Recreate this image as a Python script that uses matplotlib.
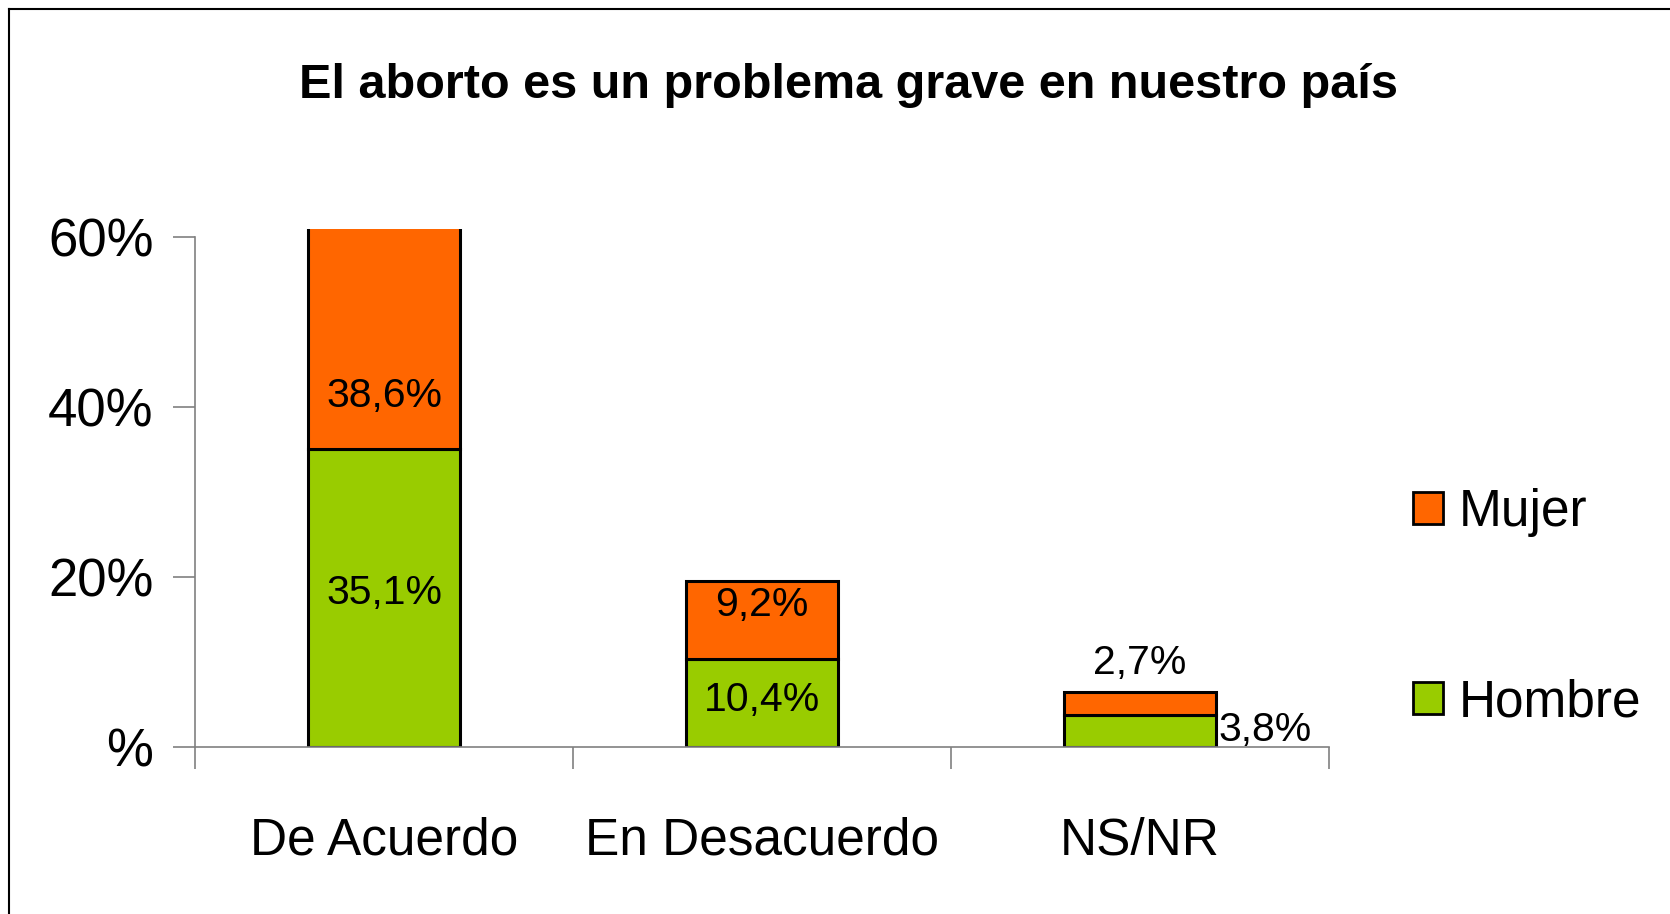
import matplotlib
matplotlib.use("Agg")
import matplotlib.pyplot as plt
from matplotlib.lines import Line2D
from matplotlib.patches import Patch

plt.rcParams['font.family'] = ['Liberation Sans', 'DejaVu Sans']

categories = ["De Acuerdo", "En Desacuerdo", "NS/NR"]
hombre = [35.1, 10.4, 3.8]
mujer = [38.6, 9.2, 2.7]
hombre_labels = ["35,1%", "10,4%", "3,8%"]
mujer_labels = ["38,6%", "9,2%", "2,7%"]
yticks = [0, 20, 40, 60]
ytick_labels = ["%", "20%", "40%", "60%"]

c_mujer = "#FF6600"
c_hombre = "#99CC00"

fig = plt.figure(figsize=(16.7, 9.14), dpi=100)
ax = fig.add_axes([0.1168, 0.1827, 0.679, 0.5668])

x = range(len(categories))
ax.bar(x, hombre, width=0.4, color=c_hombre, edgecolor="black", linewidth=2.2, zorder=2)
ax.bar(x, mujer, width=0.4, bottom=hombre, color=c_mujer, edgecolor="black", linewidth=2.2, zorder=2)

ax.set_xlim(-0.5, 2.5)
ax.set_ylim(0, 61)
ax.set_yticks(yticks)
ax.set_yticklabels(ytick_labels, fontsize=38)
ax.spines['left'].set_bounds(0, 60)
for s in ['top', 'right']:
    ax.spines[s].set_visible(False)
for s in ['left', 'bottom']:
    ax.spines[s].set_color("#808080")
    ax.spines[s].set_linewidth(1.2)
ax.tick_params(axis='y', length=16, width=1.2, color="#808080", pad=14)

# category boundaries as ticks, names as minor labels
ax.set_xticks([-0.5, 0.5, 1.5, 2.5])
ax.set_xticklabels([])
ax.tick_params(axis='x', which='major', length=16, width=1.2, color="#808080")
ax.set_xticks(list(x), minor=True)
ax.set_xticklabels(categories, minor=True, fontsize=37)
ax.tick_params(axis='x', which='minor', length=0, pad=50)

# data labels
ax.text(0, 41.3, mujer_labels[0], ha='center', va='center', fontsize=29.5)
ax.text(0, 18.1, hombre_labels[0], ha='center', va='center', fontsize=29.5)
ax.text(1, 16.7, mujer_labels[1], ha='center', va='center', fontsize=29.5)
ax.text(1, 5.5, hombre_labels[1], ha='center', va='center', fontsize=29.5)
ax.text(2, 9.9, mujer_labels[2], ha='center', va='center', fontsize=29.5)
ax.text(2.33, 2.0, hombre_labels[2], ha='center', va='center', fontsize=29.5)

fig.text(0.508, 0.906, "El aborto es un problema grave en nuestro país",
         ha='center', va='center', fontsize=35, fontweight='bold')

handles = [Patch(facecolor=c_mujer, edgecolor='black', linewidth=2),
           Patch(facecolor=c_hombre, edgecolor='black', linewidth=2)]
fig.legend(handles, ["Mujer", "Hombre"], loc='center left', bbox_to_anchor=(0.846, 0.335),
           frameon=False, fontsize=37, handlelength=0.58, handleheight=0.58,
           handletextpad=0.32, labelspacing=2.75, borderpad=0, borderaxespad=0)

# outer frame
fig.add_artist(Line2D([9 / 1670, 9 / 1670], [0, 1 - 9 / 914], transform=fig.transFigure, color='black', linewidth=1.5))
fig.add_artist(Line2D([9 / 1670, 1], [1 - 9 / 914, 1 - 9 / 914], transform=fig.transFigure, color='black', linewidth=1.5))

fig.savefig("out.png", dpi=100)
